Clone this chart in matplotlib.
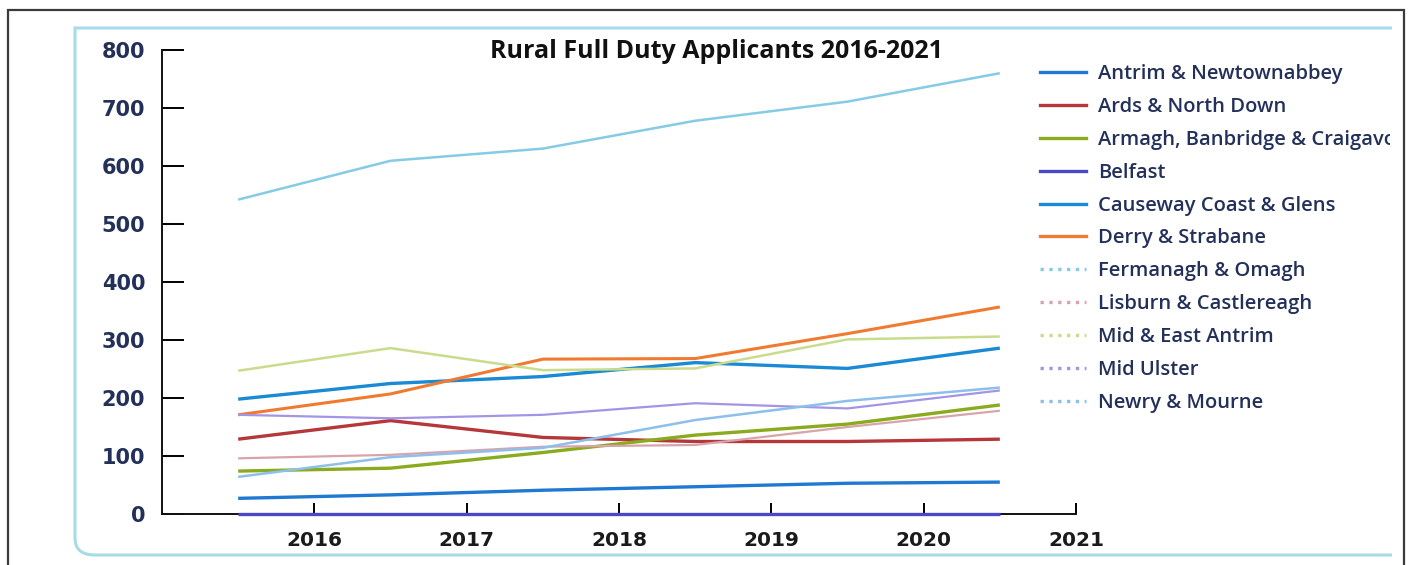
import matplotlib
matplotlib.use('Agg')
import matplotlib.pyplot as plt
from matplotlib.lines import Line2D
from matplotlib.patches import Rectangle
from matplotlib.path import Path
from matplotlib.patches import PathPatch
from matplotlib.transforms import Bbox, TransformedBbox

# Rural full duty applicants per council, one value per year
years = ['2016', '2017', '2018', '2019', '2020', '2021']

antrim = [27, 33, 41, 47, 53, 55]
ards = [129, 161, 132, 125, 125, 129]
armagh = [74, 79, 106, 136, 155, 188]
belfast = [0, 0, 0, 0, 0, 0]
causeway = [198, 225, 237, 261, 251, 286]
derry = [171, 207, 267, 268, 311, 357]
fermanagh = [542, 609, 630, 678, 711, 760]
lisburn = [96, 102, 116, 119, 150, 178]
midEast = [247, 286, 248, 251, 301, 306]
midUlster = [171, 165, 171, 191, 182, 213]
newry = [64, 98, 114, 162, 195, 218]

councils = ['Antrim & Newtownabbey', 'Ards & North Down',
            'Armagh, Banbridge & Craigavon', 'Belfast',
            'Causeway Coast & Glens', 'Derry & Strabane',
            'Fermanagh & Omagh', 'Lisburn & Castlereagh',
            'Mid & East Antrim', 'Mid Ulster', 'Newry & Mourne']
series = [antrim, ards, armagh, belfast, causeway, derry,
          fermanagh, lisburn, midEast, midUlster, newry]
colours = ['#1f78d1', '#b5373a', '#8aab1e', '#4a48c8', '#1a8ad4', '#f07a30',
           '#86cbe6', '#d8a4ac', '#c9dc8c', '#a394e6', '#8cc0ea']
widths = [2.4, 2.4, 2.4, 2.4, 2.4, 2.2, 1.8, 1.6, 1.8, 1.6, 1.8]
# the faded councils are drawn dotted in the legend
legendStyle = ['-', '-', '-', '-', '-', '-', ':', ':', ':', ':', ':']

navy = '#23305a'

fig = plt.figure(figsize=(14.1, 5.65), dpi=100)
W, H = 1410.0, 565.0

# outer black frame and inner cyan frame
fig.patches.append(Rectangle((8 / W, -0.05), 1396 / W, 1 - 10 / H + 0.05,
                             transform=fig.transFigure, fill=False,
                             edgecolor='#3a3a3a', linewidth=1.6))
verts = [(1392 / W, 1 - 28 / H), (75 / W, 1 - 28 / H), (75 / W, 1 - 538 / H),
         (75 / W, 1 - 555 / H), (95 / W, 1 - 555 / H), (1392 / W, 1 - 555 / H)]
codes = [Path.MOVETO, Path.LINETO, Path.LINETO, Path.CURVE3, Path.CURVE3, Path.LINETO]
fig.patches.append(PathPatch(Path(verts, codes), transform=fig.transFigure,
                             fill=False, edgecolor='#a6dce8', linewidth=2.2,
                             joinstyle='miter'))

ax = fig.add_axes([162 / W, 1 - 514 / H, (1076 - 162) / W, (514 - 50) / H])

xpos = [i + 0.5 for i in range(len(years))]
for vals, col, lw in zip(series, colours, widths):
    ax.plot(xpos, vals, color=col, linewidth=lw, clip_on=False,
            solid_capstyle='butt', zorder=3)

ax.set_xlim(0, len(years))
ax.set_ylim(0, 800)
ax.set_xticks(range(1, len(years) + 1))
ax.set_xticklabels(years)
ax.set_yticks(range(0, 801, 100))

for s in ['top', 'right']:
    ax.spines[s].set_visible(False)
for s in ['left', 'bottom']:
    ax.spines[s].set_linewidth(1.4)
    ax.spines[s].set_color('#111111')

ax.tick_params(axis='y', direction='in', length=16, width=1.4, pad=12,
               labelsize=15, labelcolor=navy)
ax.tick_params(axis='x', direction='in', length=8, width=1.4, pad=12,
               labelsize=14.5, labelcolor='#1a1a1a')
for lab in ax.get_yticklabels() + ax.get_xticklabels():
    lab.set_fontfamily('DejaVu Sans')
    lab.set_fontweight('bold')

fig.text(717 / W, 1 - 52 / H, 'Rural Full Duty Applicants 2016-2021',
         ha='center', va='center', fontsize=18, fontweight='bold',
         family='Open Sans', color='#111111')

handles = [Line2D([], [], color=c, linewidth=2.4, linestyle=ls)
           for c, ls in zip(colours, legendStyle)]
leg = fig.legend(handles, councils, loc='upper left',
                 bbox_to_anchor=(1040 / W, 1 - 64 / H), frameon=False,
                 borderpad=0, borderaxespad=0, handlelength=2.3,
                 handletextpad=0.6, labelspacing=0.64,
                 prop={'family': 'Open Sans', 'weight': 'semibold', 'size': 14.5})
clipBox = TransformedBbox(Bbox([[0, 0], [1390 / W, 1]]), fig.transFigure)
for t in leg.get_texts():
    t.set_color(navy)
    t.set_clip_on(True)
    t.set_clip_box(clipBox)

fig.savefig('out.png', dpi=100)
